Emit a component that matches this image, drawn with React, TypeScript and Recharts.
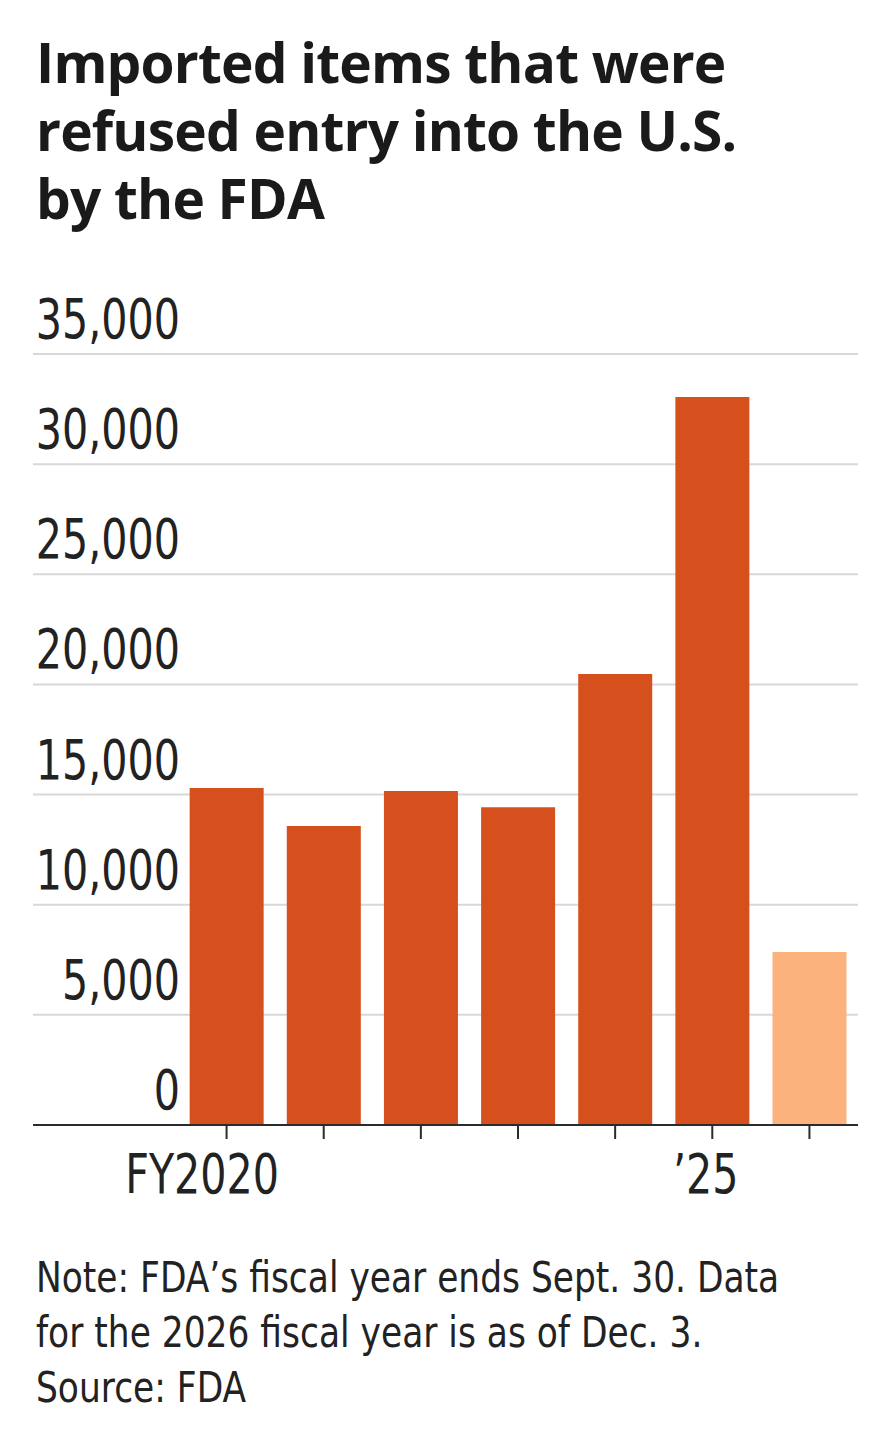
import React from "react";
import { BarChart, Bar, XAxis, YAxis, CartesianGrid, Cell } from "recharts";

const years = ["2020", "2021", "2022", "2023", "2024", "2025", "2026"];
const refusals = [15300, 13570, 15160, 14430, 20470, 33050, 7850];
const xPrefixes = ["FY", "", "", "", "", "\u2019", ""];
const xNumbers = ["2020", "", "", "", "", "25", ""];
const yTicks = [0, 5000, 10000, 15000, 20000, 25000, 30000, 35000];
const partialYear = "2026";

const data = years.map((year, i) => ({ year, value: refusals[i] }));

const narrow = "'DejaVu Sans', sans-serif";
const LABEL_SIZE = 55;
const SQUEEZE = 0.75;
const DIGIT_W = 0.636 * LABEL_SIZE * SQUEEZE;

const YTick = (props: any) => {
  const { x, y, payload } = props;
  return (
    <g transform={`translate(${x + 155},${y - 16}) scale(${SQUEEZE},1)`}>
      <text x={0} y={0} textAnchor="end" fontFamily={narrow} fontSize={LABEL_SIZE} fill="#222">
        {payload.value.toLocaleString("en-US")}
      </text>
    </g>
  );
};

const XTick = (props: any) => {
  const { x, y, index } = props;
  const num = xNumbers[index];
  if (!num) return null;
  const half = (num.length * DIGIT_W) / 2;
  return (
    <g>
      <g transform={`translate(${x},${y + 52}) scale(${SQUEEZE},1)`}>
        <text x={0} y={0} textAnchor="middle" fontFamily={narrow} fontSize={LABEL_SIZE} fill="#222">
          {num}
        </text>
      </g>
      <g transform={`translate(${x - half},${y + 52}) scale(${SQUEEZE},1)`}>
        <text x={0} y={0} textAnchor="end" fontFamily={narrow} fontSize={LABEL_SIZE} fill="#222">
          {xPrefixes[index]}
        </text>
      </g>
    </g>
  );
};

export default function App() {
  return (
    <div
      style={{
        position: "absolute",
        left: 0,
        top: 0,
        width: 894,
        height: 1444,
        background: "#fff",
        overflow: "hidden",
      }}
    >
      <div
        style={{
          position: "absolute",
          left: 36,
          top: 28,
          fontFamily: "'Open Sans', sans-serif",
          fontWeight: 700,
          fontSize: 55,
          lineHeight: "68px",
          letterSpacing: -0.8,
          color: "#1a1a1a",
          whiteSpace: "nowrap",
        }}
      >
        Imported items that were
        <br />
        refused entry into the U.S.
        <br />
        by the FDA
      </div>

      <div style={{ position: "absolute", left: 0, top: 260 }}>
        <BarChart
          width={894}
          height={980}
          data={data}
          margin={{ top: 94, right: 36, left: 32, bottom: 0 }}
          barCategoryGap="12%"
        >
          <CartesianGrid vertical={false} stroke="#d8d8d8" strokeWidth={2} />
          <YAxis
            width={1}
            domain={[0, 35000]}
            ticks={yTicks}
            axisLine={false}
            tickLine={false}
            tick={<YTick />}
            interval={0}
          />
          <XAxis
            dataKey="year"
            padding={{ left: 145, right: 0 }}
            axisLine={{ stroke: "#2b2b2b", strokeWidth: 2 }}
            tickLine={{ stroke: "#2b2b2b", strokeWidth: 2 }}
            tickSize={14}
            height={115}
            interval={0}
            tick={<XTick />}
          />
          <Bar dataKey="value" isAnimationActive={false}>
            {data.map((d) => (
              <Cell key={d.year} fill={d.year === partialYear ? "#FBB27C" : "#D6501E"} />
            ))}
          </Bar>
        </BarChart>
      </div>

      <div
        style={{
          position: "absolute",
          left: 36,
          top: 1250,
          fontFamily: narrow,
          fontSize: 42,
          lineHeight: "55px",
          color: "#222",
          whiteSpace: "nowrap",
          transform: "scaleX(0.82)",
          transformOrigin: "left top",
        }}
      >
        Note: FDA{"\u2019"}s fiscal year ends Sept. 30. Data
        <br />
        for the 2026 fiscal year is as of Dec. 3.
        <br />
        Source: FDA
      </div>
    </div>
  );
}
